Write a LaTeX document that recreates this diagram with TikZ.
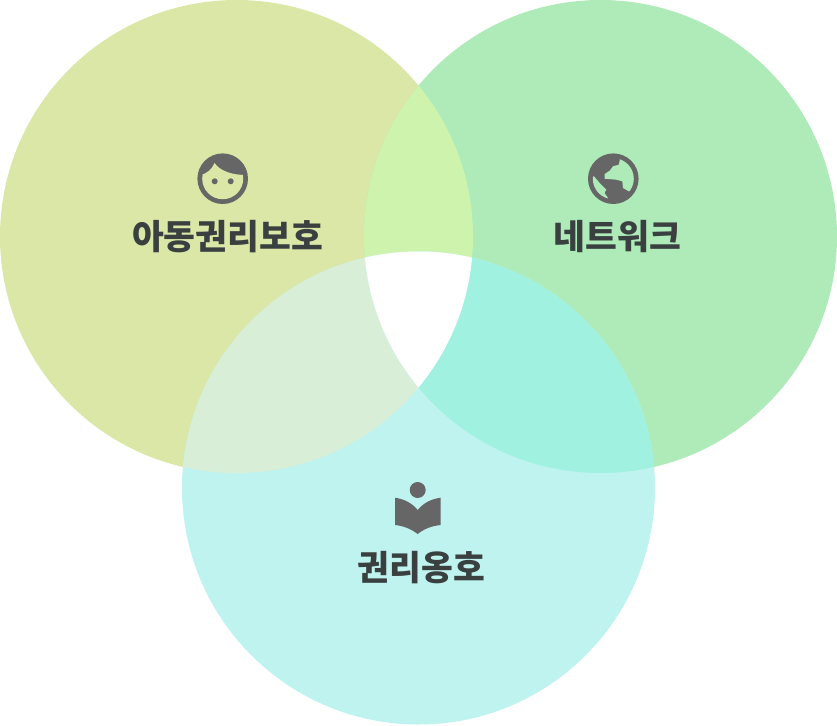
\documentclass[tikz,border=0pt]{standalone}
\usepackage{fontspec}
\newfontfamily\krfont{Noto Sans CJK KR}[Scale=1]
\definecolor{childcol}{HTML}{DAE7A7}
\definecolor{netcol}{HTML}{AEEBB9}
\definecolor{rightscol}{HTML}{BFF3EF}
\definecolor{childnetcol}{HTML}{CEF3AC}
\definecolor{childrightscol}{HTML}{D9EED6}
\definecolor{netrightscol}{HTML}{A0F1E0}
\definecolor{iconcol}{HTML}{666666}
\definecolor{labelcol}{HTML}{3A4040}
\tikzset{
  circlelabel/.style={font=\krfont\bfseries\fontsize{29.5}{29.5}\selectfont,text=labelcol,inner sep=0pt},
  iconfill/.style={fill=iconcol,draw=none}
}
\newcommand{\childcircle}{(236.5,236.5) circle [radius=236.5]}
\newcommand{\netcircle}{(600.5,236.5) circle [radius=236.5]}
\newcommand{\rightscircle}{(418.5,488) circle [radius=236.5]}
\begin{document}
\begin{tikzpicture}[x=0.03cm,y=-0.03cm]
  \useasboundingbox (0,0) rectangle (837,725);
  \fill[childcol] \childcircle;
  \fill[netcol] \netcircle;
  \fill[rightscol] \rightscircle;
  \begin{scope}
    \clip \childcircle;
    \fill[childnetcol] \netcircle;
    \fill[childrightscol] \rightscircle;
    \clip \netcircle;
    \fill[white] \rightscircle;
  \end{scope}
  \begin{scope}
    \clip \netcircle;
    \clip \rightscircle;
    \fill[netrightscol] (0,0) rectangle (837,725);
    \fill[white] \childcircle;
  \end{scope}
  % face
  \fill[iconfill] (222.7,178.7) circle [radius=25.3];
  \begin{scope}
    \clip (222.7,178.7) circle [radius=20.5];
    \fill[childcol] (200,175) .. controls (207,174) and (212,169) .. (214.5,163) .. controls (220,171) and (232,175) .. (246,175) -- (246,202) -- (200,202) -- cycle;
  \end{scope}
  \fill[iconfill] (214.7,181.3) circle [radius=3];
  \fill[iconfill] (230.7,181.3) circle [radius=3];
  % globe
  \fill[iconfill] (613.3,178.7) circle [radius=25.3];
  \begin{scope}
    \clip (613.3,178.7) circle [radius=20.5];
    \fill[netcol] (619.7,160.7) -- (618.7,164.7) -- (613,166.3) -- (609.7,170.7) -- (604.7,174) -- (604.7,178.7) -- (616.3,179.7) -- (622.3,181.3) -- (623,188) -- (628.7,191.3) -- (640,188) -- (640,155) -- (619.7,155) -- cycle;
    \fill[netcol] (594,176.3) -- (599.7,183) -- (606.3,189.7) -- (604.5,193) -- (608,198) -- (606.3,203) -- (585,203) -- (585,176.3) -- cycle;
  \end{scope}
  % book
  \fill[iconfill] (417.7,490) circle [radius=8];
  \fill[iconfill] (395,497.7) .. controls (404,499) and (412,503) .. (417.7,510) .. controls (423.4,503) and (431,499) .. (440.7,497.7) -- (440.7,525) .. controls (431,526) and (424,529) .. (417.7,534) .. controls (411,529) and (404,526) .. (395,525) -- cycle;
  \node[circlelabel] (child) at (227.5,236.5) {아동권리보호};
  \node[circlelabel] (net) at (617.5,236.5) {네트워크};
  \node[circlelabel] (rights) at (421.5,567.5) {권리옹호};
\end{tikzpicture}
\end{document}
